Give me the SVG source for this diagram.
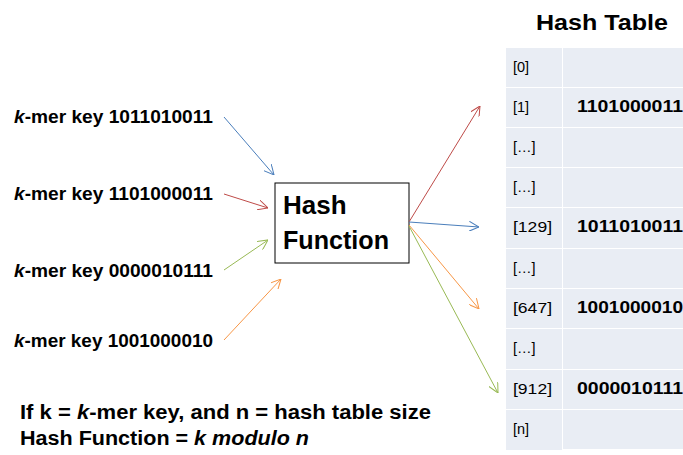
<svg xmlns="http://www.w3.org/2000/svg" width="683" height="455" viewBox="0 0 683 455">
<defs>
<style>
text{font-family:"Liberation Sans",Arial,sans-serif;fill:#000}
.b{font-weight:bold}
.key{font-size:17.5px;font-weight:bold}
.idx{font-size:14.5px}
.val{font-size:16.5px;font-weight:bold}
.cell{fill:#e9edf4}
.c{fill:none;stroke-width:1}
</style>
<marker id="ab" viewBox="0 0 10 10" refX="10" refY="5" markerWidth="10" markerHeight="10" orient="auto" markerUnits="userSpaceOnUse"><path d="M0,0 L10,5 L0,10" fill="none" stroke="#4a7ebb" stroke-width="1"/></marker>
<marker id="ar" viewBox="0 0 10 10" refX="10" refY="5" markerWidth="10" markerHeight="10" orient="auto" markerUnits="userSpaceOnUse"><path d="M0,0 L10,5 L0,10" fill="none" stroke="#be4b48" stroke-width="1"/></marker>
<marker id="ag" viewBox="0 0 10 10" refX="10" refY="5" markerWidth="10" markerHeight="10" orient="auto" markerUnits="userSpaceOnUse"><path d="M0,0 L10,5 L0,10" fill="none" stroke="#98b954" stroke-width="1"/></marker>
<marker id="ao" viewBox="0 0 10 10" refX="10" refY="5" markerWidth="10" markerHeight="10" orient="auto" markerUnits="userSpaceOnUse"><path d="M0,0 L10,5 L0,10" fill="none" stroke="#f79646" stroke-width="1"/></marker>
</defs>
<rect width="683" height="455" fill="#fff"/>

<g id="keys">
<text class="key" x="14" y="123" textLength="199" lengthAdjust="spacingAndGlyphs"><tspan font-style="italic">k</tspan>-mer key 1011010011</text>
<text class="key" x="14" y="200" textLength="199" lengthAdjust="spacingAndGlyphs"><tspan font-style="italic">k</tspan>-mer key 1101000011</text>
<text class="key" x="14" y="277" textLength="199" lengthAdjust="spacingAndGlyphs"><tspan font-style="italic">k</tspan>-mer key 0000010111</text>
<text class="key" x="14" y="347" textLength="199" lengthAdjust="spacingAndGlyphs"><tspan font-style="italic">k</tspan>-mer key 1001000010</text>
</g>

<g id="hash-function">
<rect x="275" y="183" width="134" height="80" fill="#fff" stroke="#000" stroke-width="1"/>
<text class="b" x="283" y="214" font-size="26">Hash</text>
<text class="b" x="283" y="249" font-size="26" textLength="106" lengthAdjust="spacingAndGlyphs">Function</text>
</g>

<g id="connectors">
<line class="c" x1="224" y1="117" x2="274" y2="175" stroke="#4a7ebb" marker-end="url(#ab)"/>
<line class="c" x1="224" y1="194" x2="268" y2="208" stroke="#be4b48" marker-end="url(#ar)"/>
<line class="c" x1="224" y1="270" x2="268" y2="240" stroke="#98b954" marker-end="url(#ag)"/>
<line class="c" x1="224" y1="340" x2="281" y2="279" stroke="#f79646" marker-end="url(#ao)"/>
<line class="c" x1="409" y1="222" x2="480" y2="106" stroke="#be4b48" marker-end="url(#ar)"/>
<line class="c" x1="409" y1="222" x2="479" y2="227" stroke="#4a7ebb" marker-end="url(#ab)"/>
<line class="c" x1="409" y1="225" x2="479" y2="309" stroke="#f79646" marker-end="url(#ao)"/>
<line class="c" x1="409" y1="226" x2="498" y2="393" stroke="#98b954" marker-end="url(#ag)"/>
</g>

<g id="hash-table">
<text class="b" x="536" y="30" font-size="22" textLength="132" lengthAdjust="spacingAndGlyphs">Hash Table</text>
<g id="rows">
<rect class="cell" x="506" y="48" width="56" height="39"/><rect class="cell" x="563" y="48" width="120" height="39"/>
<rect class="cell" x="506" y="88" width="56" height="39"/><rect class="cell" x="563" y="88" width="120" height="39"/>
<rect class="cell" x="506" y="128" width="56" height="39"/><rect class="cell" x="563" y="128" width="120" height="39"/>
<rect class="cell" x="506" y="168" width="56" height="39"/><rect class="cell" x="563" y="168" width="120" height="39"/>
<rect class="cell" x="506" y="208" width="56" height="40"/><rect class="cell" x="563" y="208" width="120" height="40"/>
<rect class="cell" x="506" y="249" width="56" height="39"/><rect class="cell" x="563" y="249" width="120" height="39"/>
<rect class="cell" x="506" y="289" width="56" height="39"/><rect class="cell" x="563" y="289" width="120" height="39"/>
<rect class="cell" x="506" y="329" width="56" height="40"/><rect class="cell" x="563" y="329" width="120" height="40"/>
<rect class="cell" x="506" y="370" width="56" height="39"/><rect class="cell" x="563" y="370" width="120" height="39"/>
<rect class="cell" x="506" y="410" width="56" height="40"/><rect class="cell" x="563" y="410" width="120" height="39"/>
</g>
<text class="idx" x="513" y="72">[0]</text>
<text class="idx" x="513" y="112">[1]</text>
<text class="idx" x="513" y="152">[…]</text>
<text class="idx" x="513" y="192">[…]</text>
<text class="idx" x="513" y="232" textLength="39" lengthAdjust="spacingAndGlyphs">[129]</text>
<text class="idx" x="513" y="273">[…]</text>
<text class="idx" x="513" y="313" textLength="39" lengthAdjust="spacingAndGlyphs">[647]</text>
<text class="idx" x="513" y="353">[…]</text>
<text class="idx" x="513" y="394" textLength="39" lengthAdjust="spacingAndGlyphs">[912]</text>
<text class="idx" x="513" y="434">[n]</text>
<text class="val" x="577" y="112" textLength="106" lengthAdjust="spacingAndGlyphs">1101000011</text>
<text class="val" x="577" y="232" textLength="106" lengthAdjust="spacingAndGlyphs">1011010011</text>
<text class="val" x="577" y="313" textLength="106" lengthAdjust="spacingAndGlyphs">1001000010</text>
<text class="val" x="577" y="394" textLength="106" lengthAdjust="spacingAndGlyphs">0000010111</text>
</g>

<g id="formula">
<text class="b" x="20" y="419" font-size="19.5" textLength="411" lengthAdjust="spacingAndGlyphs">If k = <tspan font-style="italic">k</tspan>-mer key, and n = hash table size</text>
<text class="b" x="20" y="445" font-size="19.5" textLength="289" lengthAdjust="spacingAndGlyphs">Hash Function = <tspan font-style="italic">k modulo n</tspan></text>
</g>
</svg>
